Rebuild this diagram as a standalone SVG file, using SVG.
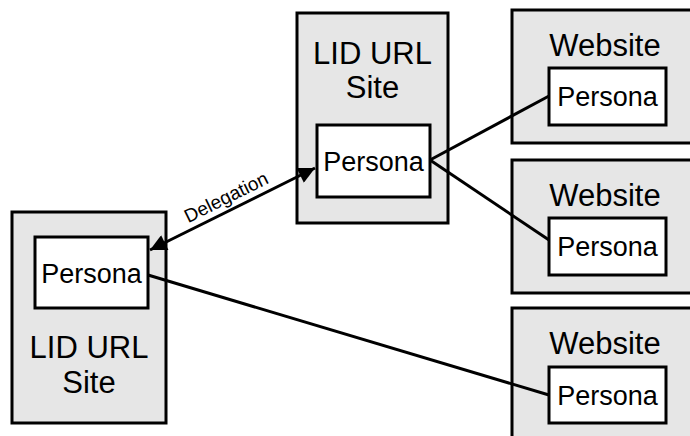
<svg xmlns="http://www.w3.org/2000/svg" width="690" height="436" viewBox="0 0 690 436">
<style>
.outer{fill:#e6e6e6;stroke:#000;stroke-width:3}
.inner{fill:#fff;stroke:#000;stroke-width:3}
.big{font-family:"Liberation Sans",Arial,sans-serif;font-size:31px;fill:#000;text-anchor:middle}
.per{font-family:"Liberation Sans",Arial,sans-serif;font-size:27px;fill:#000;text-anchor:middle}
.lbl{font-family:"Liberation Sans",Arial,sans-serif;font-size:19px;fill:#000;text-anchor:middle}
.con{stroke:#000;stroke-width:3;fill:none}
</style>
<defs>
<marker id="ah" viewBox="0 0 10 10" refX="10" refY="5" markerWidth="7" markerHeight="5.5" orient="auto-start-reverse" markerUnits="strokeWidth">
<path d="M0,0 L10,5 L0,10 z" fill="#000"/>
</marker>
</defs>
<g id="lid-left">
<rect class="outer" x="12" y="212" width="154" height="211"/>
<rect class="inner" x="35" y="237" width="113" height="71"/>
<text class="per" x="91.5" y="283">Persona</text>
<text class="big" x="89" y="358">LID URL</text>
<text class="big" x="89" y="393">Site</text>
</g>
<g id="lid-mid">
<rect class="outer" x="297" y="13" width="151" height="210"/>
<text class="big" x="372.5" y="64">LID URL</text>
<text class="big" x="372.5" y="98">Site</text>
<rect class="inner" x="317" y="125" width="113" height="72"/>
<text class="per" x="373.5" y="171">Persona</text>
</g>
<g id="web1">
<rect class="outer" x="512" y="10" width="190" height="133"/>
<text class="big" x="605" y="56">Website</text>
<rect class="inner" x="549" y="68" width="117" height="57"/>
<text class="per" x="607.5" y="106">Persona</text>
</g>
<g id="web2">
<rect class="outer" x="512" y="160" width="190" height="133"/>
<text class="big" x="605" y="206">Website</text>
<rect class="inner" x="549" y="218" width="117" height="57"/>
<text class="per" x="607.5" y="256">Persona</text>
</g>
<g id="web3">
<rect class="outer" x="512" y="308" width="190" height="140"/>
<text class="big" x="605" y="354">Website</text>
<rect class="inner" x="549" y="367" width="117" height="56"/>
<text class="per" x="607.5" y="405">Persona</text>
</g>
<g id="connectors">
<line class="con" x1="430" y1="160" x2="549" y2="96"/>
<line class="con" x1="430" y1="160" x2="549" y2="240"/>
<line class="con" x1="148" y1="275" x2="549" y2="395"/>
<line class="con" x1="150" y1="250" x2="315" y2="168" marker-start="url(#ah)" marker-end="url(#ah)"/>
<text class="lbl" transform="translate(229,203) rotate(-26.4)">Delegation</text>
</g>
</svg>
